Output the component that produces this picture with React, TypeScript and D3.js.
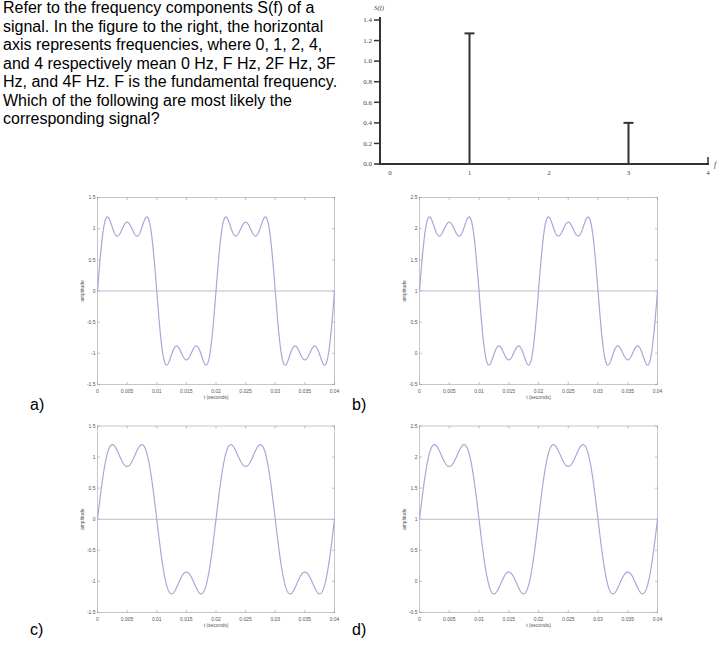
import React from "react";
import * as d3 from "d3";

// ---- Data ----
const questionLines = [
  "Refer to the frequency components S(f) of a",
  "signal. In the figure to the right, the horizontal",
  "axis represents frequencies, where 0, 1, 2, 4,",
  "and 4 respectively mean 0 Hz, F Hz, 2F Hz, 3F",
  "Hz, and 4F Hz. F is the fundamental frequency.",
  "Which of the following are most likely the",
  "corresponding signal?",
];

const stemFreqs = [0, 1, 2, 3, 4];
const stemAmps = [0, 1.27, 0, 0.4, 0];
const stemYTicks = [0, 0.2, 0.4, 0.6, 0.8, 1.0, 1.2, 1.4];

// harmonic content of the candidate signals (harmonic number, amplitude)
const harmonics3 = [1, 3, 5];
const amps3 = [1.273, 0.424, 0.255];
const harmonics2 = [1, 3];
const amps2 = [1.273, 0.424];
const fundamentalHz = 50;

const timeTicks = [0, 0.005, 0.01, 0.015, 0.02, 0.025, 0.03, 0.035, 0.04];
const yTicksCentered = [-1.5, -1, -0.5, 0, 0.5, 1, 1.5];
const yTicksOffset = [-0.5, 0, 0.5, 1, 1.5, 2, 2.5];

const panelLabels = ["a)", "b)", "c)", "d)"];
const panelOffsets = [0, 1, 0, 1];

const SANS = "'Liberation Sans', Arial, sans-serif";
const SERIF = "'Liberation Serif', 'Times New Roman', serif";

function synth(harm: number[], amps: number[], dc: number) {
  const n = 800;
  const pts: [number, number][] = [];
  for (let i = 0; i <= n; i++) {
    const t = (0.04 * i) / n;
    let v = dc;
    harm.forEach((h, k) => {
      v += amps[k] * Math.sin(2 * Math.PI * fundamentalHz * h * t);
    });
    pts.push([t, v]);
  }
  return pts;
}

function fmt(v: number) {
  return String(+v.toFixed(3));
}

function Panel({
  left, right, top, bottom, harm, amps, dc, yTicks,
}: {
  left: number; right: number; top: number; bottom: number;
  harm: number[]; amps: number[]; dc: number; yTicks: number[];
}) {
  const x = d3.scaleLinear().domain([0, 0.04]).range([left, right]);
  const y = d3.scaleLinear().domain([yTicks[0], yTicks[yTicks.length - 1]]).range([bottom, top]);
  const data = synth(harm, amps, dc);
  const line = d3.line<[number, number]>().x((d) => x(d[0])).y((d) => y(d[1]));
  const tickColor = "#999";
  const labelColor = "#555";
  return (
    <g>
      <rect x={left} y={top} width={right - left} height={bottom - top} fill="none" stroke="#c6c6c6" strokeWidth={1} />
      {timeTicks.map((t) => (
        <g key={"xt" + t}>
          <line x1={x(t)} x2={x(t)} y1={bottom} y2={bottom - 2.5} stroke={tickColor} strokeWidth={0.6} />
          <line x1={x(t)} x2={x(t)} y1={top} y2={top + 2.5} stroke={tickColor} strokeWidth={0.6} />
          <text x={x(t)} y={bottom + 8.5} fontSize={5} fill={labelColor} textAnchor="middle" fontFamily={SANS}>
            {fmt(t)}
          </text>
        </g>
      ))}
      {yTicks.map((v) => (
        <g key={"yt" + v}>
          <line x1={left} x2={left + 2.5} y1={y(v)} y2={y(v)} stroke={tickColor} strokeWidth={0.6} />
          <line x1={right} x2={right - 2.5} y1={y(v)} y2={y(v)} stroke={tickColor} strokeWidth={0.6} />
          <text x={left - 2} y={y(v) + 1.8} fontSize={5} fill={labelColor} textAnchor="end" fontFamily={SANS}>
            {fmt(v)}
          </text>
        </g>
      ))}
      <line x1={left} x2={right} y1={y(dc)} y2={y(dc)} stroke="#b8bacc" strokeWidth={1} />
      <path d={line(data) || ""} fill="none" stroke="#a6a8da" strokeWidth={1.2} />
      <text x={(left + right) / 2} y={bottom + 14} fontSize={5} fill={labelColor} textAnchor="middle" fontFamily={SANS}>
        t (seconds)
      </text>
      <text
        transform={`translate(${left - 14},${(top + bottom) / 2}) rotate(-90)`}
        fontSize={5}
        fill={labelColor}
        textAnchor="middle"
        fontFamily={SANS}
      >
        amplitude
      </text>
    </g>
  );
}

export default function App() {
  const xS = d3.scaleLinear().domain([0, 4]).range([390, 708]);
  const yS = d3.scaleLinear().domain([0, 1.4]).range([164, 20]);
  const axisColor = "#333";

  const panels = [
    { left: 97.5, right: 334.5, top: 197.5, bottom: 384.5, lx: 30, ly: 409.5 },
    { left: 419.5, right: 657.5, top: 197.5, bottom: 384.5, lx: 352, ly: 409.5 },
    { left: 97.5, right: 334.5, top: 426, bottom: 612.5, lx: 30, ly: 635 },
    { left: 419.5, right: 657.5, top: 426, bottom: 612.5, lx: 352, ly: 635 },
  ];

  return (
    <svg
      width={724}
      height={648}
      style={{ position: "absolute", left: 0, top: 0, background: "#fff" }}
    >
      <rect x={0} y={0} width={724} height={648} fill="#fff" />
      {questionLines.map((s, i) => (
        <text key={i} x={3} y={13 + i * 18.5} fontSize={16} fill="#000" fontFamily={SANS}>
          {s}
        </text>
      ))}

      <g>
        <line x1={380} x2={380} y1={17} y2={165} stroke={axisColor} strokeWidth={2} />
        <line x1={379} x2={709} y1={164} y2={164} stroke={axisColor} strokeWidth={2} />
        <line x1={708} x2={708} y1={157} y2={165} stroke={axisColor} strokeWidth={1.5} />
        {stemYTicks.map((v) => (
          <g key={"sy" + v}>
            <line x1={374} x2={380} y1={yS(v)} y2={yS(v)} stroke={axisColor} strokeWidth={1.5} />
            <text x={372} y={yS(v) + 2.3} fontSize={7} fill="#444" textAnchor="end" fontFamily={SERIF}>
              {v.toFixed(1)}
            </text>
          </g>
        ))}
        {stemFreqs.map((f) => (
          <text key={"sx" + f} x={xS(f)} y={175} fontSize={7} fill="#444" textAnchor="middle" fontFamily={SERIF}>
            {f}
          </text>
        ))}
        {stemFreqs.map((f, i) =>
          stemAmps[i] > 0 ? (
            <g key={"st" + f}>
              <line x1={xS(f)} x2={xS(f)} y1={yS(0)} y2={yS(stemAmps[i])} stroke={axisColor} strokeWidth={2} />
              <line x1={xS(f) - 5} x2={xS(f) + 5} y1={yS(stemAmps[i])} y2={yS(stemAmps[i])} stroke={axisColor} strokeWidth={2} />
            </g>
          ) : null
        )}
        <text x={379} y={10} fontSize={7} fill="#444" textAnchor="middle" fontStyle="italic" fontFamily={SERIF}>
          S(f)
        </text>
        <text x={714} y={167} fontSize={8} fill="#444" fontStyle="italic" fontFamily={SERIF}>
          f
        </text>
      </g>

      {panels.map((p, i) => (
        <g key={"p" + i}>
          <Panel
            left={p.left}
            right={p.right}
            top={p.top}
            bottom={p.bottom}
            harm={i < 2 ? harmonics3 : harmonics2}
            amps={i < 2 ? amps3 : amps2}
            dc={panelOffsets[i]}
            yTicks={panelOffsets[i] === 0 ? yTicksCentered : yTicksOffset}
          />
          <text x={p.lx} y={p.ly} fontSize={16} fill="#000" fontFamily={SANS}>
            {panelLabels[i]}
          </text>
        </g>
      ))}
    </svg>
  );
}
